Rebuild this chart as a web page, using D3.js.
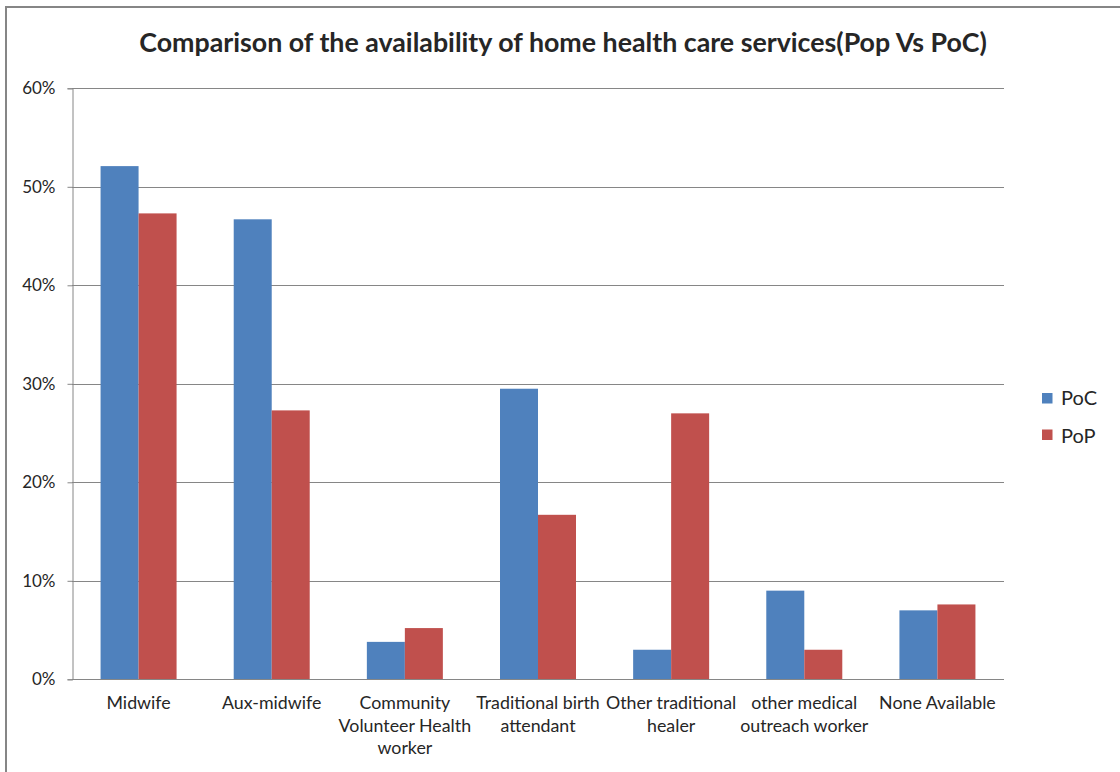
<!DOCTYPE html>
<html>
<head>
<meta charset="utf-8">
<script src="https://cdn.jsdelivr.net/npm/d3@7"></script>
<style>
  html, body { margin: 0; padding: 0; background: #fff; }
  svg { display: block; }
  text { font-family: Lato, "Open Sans", sans-serif; fill: #262626; }
</style>
</head>
<body>
<svg id="chart" width="1120" height="772"></svg>
<script>
const categories = [
  ["Midwife"],
  ["Aux-midwife"],
  ["Community", "Volunteer Health", "worker"],
  ["Traditional birth", "attendant"],
  ["Other traditional", "healer"],
  ["other medical", "outreach worker"],
  ["None Available"]
];
const seriesNames = ["PoC", "PoP"];
const pocValues = [0.521, 0.467, 0.038, 0.295, 0.030, 0.090, 0.070];
const popValues = [0.473, 0.273, 0.052, 0.167, 0.270, 0.030, 0.076];
const yTicks = [0, 0.1, 0.2, 0.3, 0.4, 0.5, 0.6];
const colors = ["#4F81BD", "#C0504D"];
const title = "Comparison of the availability of home health care services(Pop Vs PoC)";

const svg = d3.select("#chart");

// outer chart border
svg.append("rect")
  .attr("x", 6).attr("y", 7)
  .attr("width", 1130).attr("height", 800)
  .attr("fill", "none").attr("stroke", "#868686").attr("stroke-width", 2);

const plot = { left: 72, right: 1004, top: 88.3, bottom: 679.3 };

const x = d3.scaleBand()
  .domain(d3.range(categories.length))
  .range([plot.left, plot.right])
  .paddingInner(0).paddingOuter(0);

const barW = 38;
const xs = d3.scaleBand()
  .domain(seriesNames)
  .range([-barW, barW]);

const y = d3.scaleLinear().domain([0, 0.6]).range([plot.bottom, plot.top]);

// gridlines
svg.append("g")
  .selectAll("line")
  .data(yTicks)
  .join("line")
  .attr("x1", plot.left).attr("x2", plot.right)
  .attr("y1", d => Math.round(y(d)) + 0.5).attr("y2", d => Math.round(y(d)) + 0.5)
  .attr("stroke", "#868686").attr("stroke-width", 1);

// bars
const data = categories.map((c, i) => ({ i, vals: [pocValues[i], popValues[i]] }));
const groups = svg.append("g")
  .selectAll("g")
  .data(data)
  .join("g")
  .attr("transform", d => `translate(${x(d.i) + x.bandwidth() / 2},0)`);

groups.selectAll("rect")
  .data(d => d.vals.map((v, k) => ({ v, k })))
  .join("rect")
  .attr("x", d => xs(seriesNames[d.k]))
  .attr("width", xs.bandwidth())
  .attr("y", d => y(d.v))
  .attr("height", d => y(0) - y(d.v))
  .attr("fill", d => colors[d.k]);

// y axis
const yAxis = d3.axisLeft(y)
  .tickValues(yTicks)
  .tickFormat(d3.format(".0%"))
  .tickSize(5)
  .tickPadding(12);
const yg = svg.append("g")
  .attr("transform", `translate(${plot.left + 0.5},0)`)
  .call(yAxis);
yg.select(".domain").attr("stroke", "#868686");
yg.selectAll(".tick line").attr("stroke", "#868686");
yg.selectAll(".tick text")
  .attr("font-family", "Lato, sans-serif")
  .attr("font-size", 17)
  .attr("fill", "#262626");

// x axis line
svg.append("line")
  .attr("x1", plot.left).attr("x2", plot.right)
  .attr("y1", Math.round(y(0)) + 0.5).attr("y2", Math.round(y(0)) + 0.5)
  .attr("stroke", "#868686");

// category labels
const xl = svg.append("g");
categories.forEach((lines, i) => {
  const t = xl.append("text")
    .attr("text-anchor", "middle")
    .attr("font-size", 17.8)
    .attr("x", x(i) + x.bandwidth() / 2)
    .attr("y", 709);
  lines.forEach((ln, j) => {
    t.append("tspan")
      .attr("x", x(i) + x.bandwidth() / 2)
      .attr("dy", j === 0 ? 0 : 22.5)
      .text(ln);
  });
});

// title
const tt = svg.append("text")
  .attr("x", 563).attr("y", 52)
  .attr("text-anchor", "middle")
  .attr("font-weight", "bold")
  .attr("font-size", 21)
  .text(title);
const tw = tt.node().getComputedTextLength();
if (tw > 0) tt.attr("font-size", 21 * 848 / tw);

// legend
const legend = svg.append("g");
seriesNames.forEach((s, k) => {
  legend.append("rect")
    .attr("x", 1042).attr("y", 393 + k * 36.5)
    .attr("width", 10.5).attr("height", 10.5)
    .attr("fill", colors[k]);
  legend.append("text")
    .attr("x", 1061).attr("y", 404.5 + k * 38.5)
    .attr("font-size", 20)
    .text(s);
});
</script>
</body>
</html>
